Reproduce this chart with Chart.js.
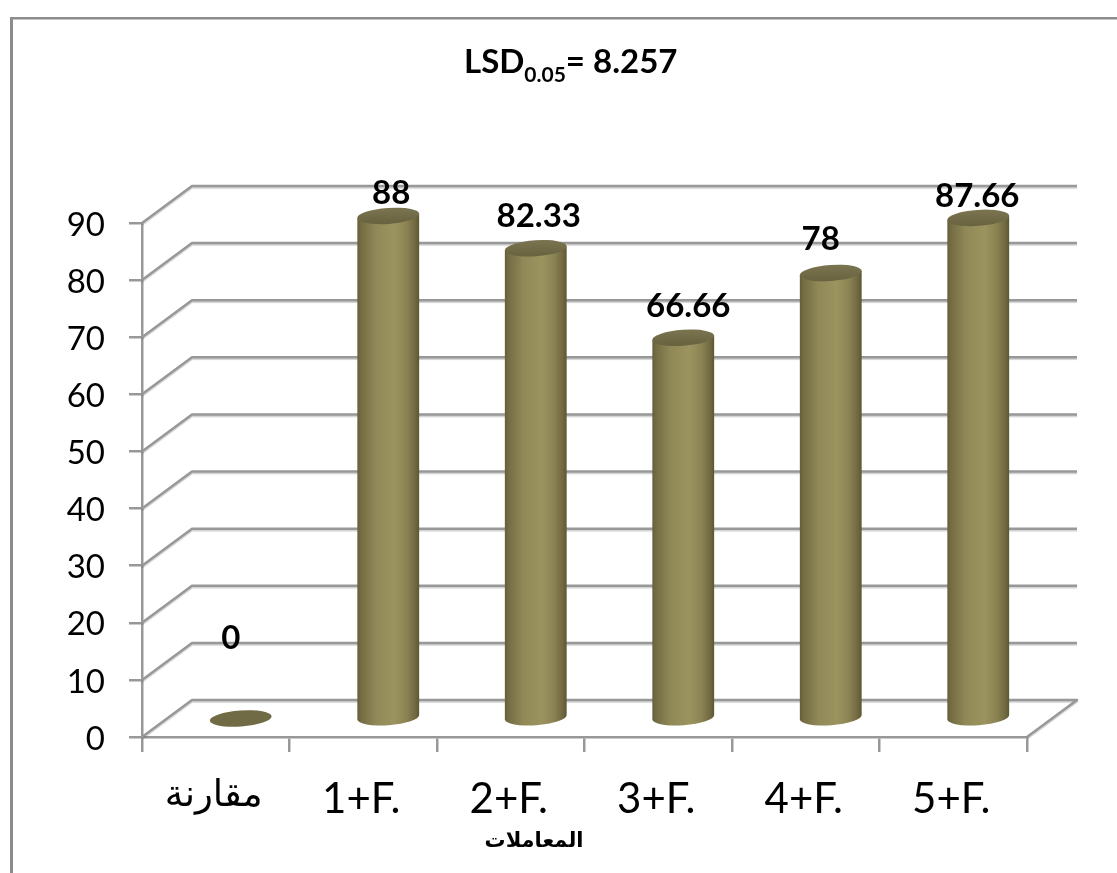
<!DOCTYPE html>
<html lang="en">
<head>
    <meta charset="UTF-8">
    <title>LSD chart</title>
    <style>
        body { margin: 0; background: #fff; }
        canvas { display: block; }
    </style>
</head>
<body>
    <canvas id="myChart" width="1117" height="873"></canvas>

    <script src="https://cdn.jsdelivr.net/npm/chart.js"></script>
    <script>
        const categories = ['مقارنة', '1+F.', '2+F.', '3+F.', '4+F.', '5+F.'];
        const values = [0, 88, 82.33, 66.66, 78, 87.66];
        const yTicks = [0, 10, 20, 30, 40, 50, 60, 70, 80, 90];
        const axisTitle = 'المعاملات';

        // how far each value label sits from the top of its cylinder
        const labelShiftX = [-10, 3, 3, 5, -10, -1];
        const labelShiftY = [-80, -23, -32, -31, -34, -22];

        // depth of the fake 3D box
        const depthX = 50;
        const depthY = -37;

        const gridColor = '#989898';
        const latin = 'Lato, "DejaVu Sans", sans-serif';

        const drawGridLines = (chart) => {
            const ctx = chart.ctx;
            const { left, right } = chart.chartArea;
            ctx.save();
            ctx.strokeStyle = gridColor;
            ctx.lineWidth = 2.5;
            ctx.lineJoin = 'round';
            ctx.shadowColor = 'rgba(0,0,0,0.18)';
            ctx.shadowOffsetY = 1.5;
            ctx.shadowBlur = 1;
            yTicks.forEach((v) => {
                const y = chart.scales.y.getPixelForValue(v);
                ctx.beginPath();
                ctx.moveTo(left, y);
                ctx.lineTo(left + depthX, y + depthY);
                ctx.lineTo(right + depthX, y + depthY);
                // floor closes back to the front edge
                if (v === 0) ctx.lineTo(right, y);
                ctx.stroke();
            });
            ctx.restore();
        };

        const bodyGradient = (ctx, x0, x1) => {
            const g = ctx.createLinearGradient(x0, 0, x1, 0);
            g.addColorStop(0, '#645e38');
            g.addColorStop(0.06, '#746d44');
            g.addColorStop(0.3, '#908857');
            g.addColorStop(0.6, '#9c945f');
            g.addColorStop(0.8, '#8a8252');
            g.addColorStop(0.94, '#6f6840');
            g.addColorStop(1, '#5b5532');
            return g;
        };

        const drawCylinders = (chart) => {
            const ctx = chart.ctx;
            const tilt = -4 * Math.PI / 180;
            const ry = 8;
            chart.getDatasetMeta(0).data.forEach((bar, i) => {
                const cx = bar.x + depthX / 2;
                const top = bar.y + depthY / 2;
                const base = bar.base + depthY / 2;
                const rx = bar.width / 2;
                const dx = rx * Math.cos(tilt);
                const dy = rx * Math.sin(tilt);
                ctx.save();
                if (values[i] > 0) {
                    ctx.beginPath();
                    ctx.moveTo(cx - dx, top - dy);
                    ctx.lineTo(cx - dx, base - dy);
                    ctx.ellipse(cx, base, rx, ry, tilt, Math.PI, 0, true);
                    ctx.lineTo(cx + dx, top + dy);
                    ctx.closePath();
                    ctx.fillStyle = bodyGradient(ctx, cx - rx, cx + rx);
                    ctx.fill();
                }
                const cap = ctx.createLinearGradient(0, top - ry, 0, top + ry);
                cap.addColorStop(0, '#7a7450');
                cap.addColorStop(1, '#686240');
                ctx.beginPath();
                ctx.ellipse(cx, top, rx, ry, tilt, 0, Math.PI * 2);
                ctx.fillStyle = values[i] > 0 ? cap : '#706a45';
                ctx.fill();
                ctx.restore();

                ctx.save();
                ctx.font = 'bold 33px ' + latin;
                ctx.fillStyle = '#000';
                ctx.textAlign = 'center';
                ctx.textBaseline = 'middle';
                ctx.fillText(String(values[i]), cx + labelShiftX[i], top + labelShiftY[i]);
                ctx.restore();
            });
        };

        const drawFrame = (chart) => {
            const ctx = chart.ctx;
            ctx.save();
            ctx.fillStyle = '#8c8c8c';
            ctx.fillRect(10, 17, chart.width - 10, 2);
            ctx.fillRect(10, 17, 3, chart.height - 17);
            ctx.fillStyle = '#c4c4c4';
            ctx.fillRect(13, 19, chart.width - 13, 1);
            ctx.restore();
        };

        const drawHeadings = (chart) => {
            const ctx = chart.ctx;
            ctx.save();
            ctx.fillStyle = '#000';
            ctx.textBaseline = 'alphabetic';
            ctx.textAlign = 'left';

            // title with the subscript written in pieces
            let x = 464;
            ctx.font = 'bold 33px ' + latin;
            ctx.fillText('LSD', x, 73);
            x += ctx.measureText('LSD').width;
            ctx.font = 'bold 21px ' + latin;
            ctx.fillText('0.05', x, 82);
            x += ctx.measureText('0.05').width;
            ctx.font = 'bold 33px ' + latin;
            ctx.fillText('= 8.257', x, 73);

            ctx.textAlign = 'center';
            ctx.textBaseline = 'middle';
            ctx.font = 'bold 21px "DejaVu Sans", sans-serif';
            ctx.fillText(axisTitle, 534, 842);
            ctx.restore();
        };

        const box3d = {
            id: 'box3d',
            beforeDraw: drawFrame,
            beforeDatasetsDraw: drawGridLines,
            afterDatasetsDraw(chart) {
                drawCylinders(chart);
                drawHeadings(chart);
            }
        };

        new Chart(document.getElementById('myChart'), {
            type: 'bar',
            data: {
                labels: categories,
                datasets: [{
                    data: values,
                    backgroundColor: 'transparent',
                    borderWidth: 0,
                    categoryPercentage: 1,
                    barPercentage: 0.42
                }]
            },
            options: {
                responsive: false,
                animation: false,
                layout: { padding: { top: 223, right: 90, left: 0, bottom: 0 } },
                plugins: {
                    legend: { display: false },
                    title: { display: false },
                    tooltip: { enabled: false }
                },
                scales: {
                    x: {
                        offset: true,
                        afterFit(scale) { scale.height = 136; },
                        grid: {
                            offset: true,
                            drawOnChartArea: false,
                            color: gridColor,
                            lineWidth: 2.5,
                            tickLength: 15
                        },
                        border: { color: gridColor, width: 2.5 },
                        ticks: {
                            color: '#000',
                            padding: 22,
                            labelOffset: -2,
                            maxRotation: 0,
                            autoSkip: false,
                            font: (c) => ({
                                family: c.index === 0 ? '"DejaVu Sans", sans-serif' : latin,
                                size: c.index === 0 ? 37 : 42
                            })
                        }
                    },
                    y: {
                        min: 0,
                        max: 90,
                        afterFit(scale) { scale.width = 142; },
                        grid: {
                            drawOnChartArea: false,
                            color: gridColor,
                            lineWidth: 2.5,
                            tickLength: 13
                        },
                        border: { color: gridColor, width: 2.5 },
                        ticks: {
                            stepSize: 10,
                            color: '#000',
                            padding: 24,
                            labelOffset: 2,
                            font: { family: latin, size: 33 }
                        }
                    }
                }
            },
            plugins: [box3d]
        });
    </script>
</body>
</html>
